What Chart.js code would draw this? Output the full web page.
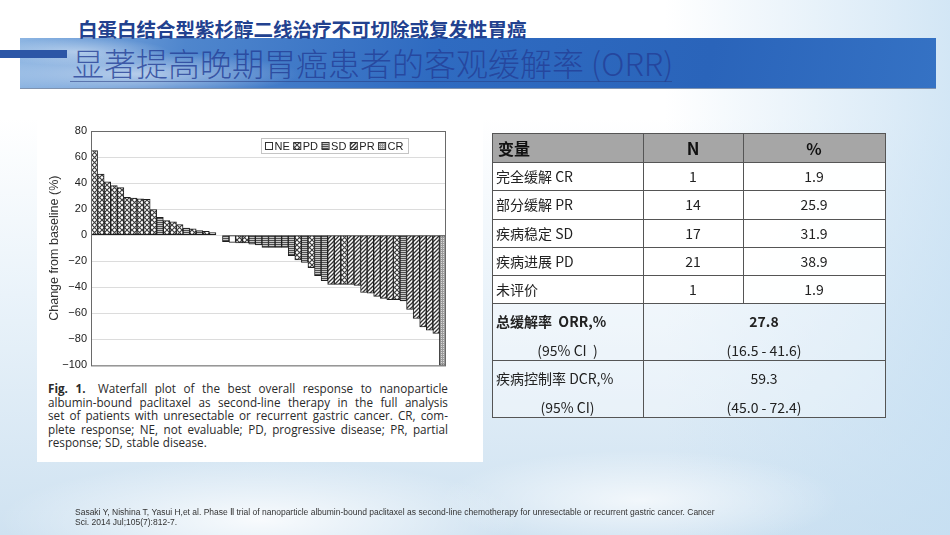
<!DOCTYPE html>
<html>
<head>
<meta charset="utf-8">
<script src="https://cdn.jsdelivr.net/npm/chart.js@4.4.1/dist/chart.umd.min.js"></script>
<style>
  body { margin: 0; }
  #slide {
    position: relative; width: 950px; height: 535px; overflow: hidden;
    font-family: "Noto Sans CJK SC", "Noto Sans", sans-serif;
    background:
      radial-gradient(ellipse 260px 60px at 260px 520px, rgba(255,255,255,0.85), rgba(255,255,255,0)),
      radial-gradient(ellipse 200px 50px at 640px 500px, rgba(255,255,255,0.7), rgba(255,255,255,0)),
      linear-gradient(90deg, rgba(255,255,255,0) 70%, rgba(196,222,242,0.75) 100%),
      linear-gradient(180deg, #ffffff 0%, #ffffff 22%, #eaf3fa 55%, #cfe2f1 100%);
  }
  .abs { position: absolute; }
  #banner {
    left: 20px; top: 38px; width: 916px; height: 50px;
    background:
      radial-gradient(ellipse 160px 22px at 120px 36px, rgba(255,255,255,0.55), rgba(255,255,255,0)),
      radial-gradient(ellipse 90px 14px at 60px 14px, rgba(255,255,255,0.45), rgba(255,255,255,0)),
      linear-gradient(100deg, #8db5e2 0%, #4f86cd 18%, #2f6bc1 45%, #2a64ba 75%, #3572c4 100%);
    border-bottom: 1px solid #7f93b0;
  }
  #leftbar { left: 0; top: 50px; width: 67px; height: 8px; background: #2c56a6; }
  #title1 { left: 78px; top: 18px; font-size: 19.5px; font-weight: bold; color: #22418f; line-height: 22px; white-space: nowrap; }
  #title2 { left: 72px; top: 44px; font-size: 32px; font-weight: 300; color: rgba(36,62,150,0.8); line-height: 36px; white-space: nowrap; }
  #uline { left: 70px; top: 81px; width: 602px; height: 1px; background: rgba(40,60,130,0.55); }
  #panel { left: 37px; top: 110px; width: 446px; height: 352px; background: #fff; }
  #chartBox { left: 37px; top: 110px; width: 446px; height: 266px; }
  #myChart { display: block; }
  #caption { left: 48px; top: 382px; width: 400px; font-family: "Open Sans", sans-serif; font-size: 11.7px; color: #2a2a2a; }
  #caption .ln { display: flex; justify-content: space-between; height: 13.6px; line-height: 13.6px; white-space: nowrap; }
  #caption .last { justify-content: flex-start; gap: 3.5px; }
  .cell { position: absolute; font-size: 14px; color: #222; white-space: pre; line-height: 20px; }
  .hl { position: absolute; height: 1px; background: #555; }
  .vl { position: absolute; width: 1px; background: #555; }
  #foot { left: 75px; top: 507px; font-family: "Liberation Sans", sans-serif; font-size: 8.5px; color: #333; line-height: 10px; white-space: nowrap; }
</style>
</head>
<body>
<div id="slide">
  <div id="banner" class="abs"></div>
  <div id="leftbar" class="abs"></div>
  <div id="title1" class="abs">白蛋白结合型紫杉醇二线治疗不可切除或复发性胃癌</div>
  <div id="title2" class="abs">显著提高晚期胃癌患者的客观缓解率 (ORR)</div>
  <div id="uline" class="abs"></div>

  <div id="panel" class="abs"></div>
  <div id="chartBox" class="abs"><canvas id="myChart" width="446" height="266"></canvas></div>
  <div id="caption" class="abs"></div>

  <div id="table" class="abs" style="left:0;top:0;width:950px;height:535px;"></div>

  <div id="foot" class="abs">Sasaki Y, Nishina T, Yasui H,et al. Phase Ⅱ trial of nanoparticle albumin-bound paclitaxel as second-line chemotherapy for unresectable or recurrent gastric cancer. Cancer<br>Sci. 2014 Jul;105(7):812-7.</div>
</div>

<script>
// Data
const patients = [1, 2, 3, 4, 5, 6, 7, 8, 9, 10, 11, 12, 13, 14, 15, 16, 17, 18,
  19, 20, 21, 22, 23, 24, 25, 26, 27, 28, 29, 30, 31, 32, 33, 34, 35, 36, 37,
  38, 39, 40, 41, 42, 43, 44, 45, 46, 47, 48, 49, 50, 51, 52, 53, 54];
const changes = [65, 47, 41, 38, 36.5, 29, 28.5, 28, 27.5, 19.7, 13.8, 11.2, 10.2, 8.1, 5.5, 4.8, 3.5, 3.0, 1.9,
  0, -5, -5.5, -6, -6, -7, -7.5, -9.4, -9.4, -9.4, -9.4, -15.8, -19, -21, -25, -31, -35,
  -37.8, -37.8, -37.8, -37.8, -38.5, -44, -44.5, -47, -48.5, -49.5, -49.5, -50.5, -57, -64, -70.5, -73, -75.5, -100];
const responses = ["PD", "PD", "PD", "PD", "PD", "PD", "PD", "PD", "PD", "PD", "SD", "PD", "PD", "PD", "SD", "PD", "SD", "PD", "SD",
  "SD", "SD", "NE", "PD", "PD", "SD", "SD", "SD", "SD", "SD", "SD", "SD", "PD", "SD", "PD", "SD", "SD",
  "PR", "PR", "PD", "PR", "PR", "PR", "PR", "PR", "PR", "PR", "PD", "SD", "PR", "PR", "PR", "PR", "PR", "CR"];
const legendTypes = ["NE", "PD", "SD", "PR", "CR"];
const yMin = -100, yMax = 80, yStep = 20;

// Table
const tableHead = ["变量", "N", "%"];
const tableRows = [
  ["完全缓解 CR", "1", "1.9"],
  ["部分缓解 PR", "14", "25.9"],
  ["疾病稳定 SD", "17", "31.9"],
  ["疾病进展 PD", "21", "38.9"],
  ["未评价", "1", "1.9"]
];
const orrRow = ["总缓解率  ORR,%", "(95% CI  )", "27.8", "(16.5 - 41.6)"];
const dcrRow = ["疾病控制率 DCR,%", "(95% CI)", "59.3", "(45.0 - 72.4)"];

const captionLines = [
  "Fig. 1. Waterfall plot of the best overall response to nanoparticle",
  "albumin-bound paclitaxel as second-line therapy in the full analysis",
  "set of patients with unresectable or recurrent gastric cancer. CR, com-",
  "plete response; NE, not evaluable; PD, progressive disease; PR, partial",
  "response; SD, stable disease."
];

// Patterns for the bar fills
function makePattern(kind) {
  if (kind === "NE") return "#ffffff";
  const c = document.createElement("canvas");
  if (kind === "PD") { c.width = 5; c.height = 5; }
  if (kind === "SD") { c.width = 4; c.height = 2; }
  if (kind === "PR") { c.width = 4; c.height = 4; }
  if (kind === "CR") { c.width = 2; c.height = 2; }
  const g = c.getContext("2d");
  g.fillStyle = "#fff";
  g.fillRect(0, 0, c.width, c.height);
  if (kind === "PD") {
    g.strokeStyle = "#3a3a3a"; g.lineWidth = 1.1;
    g.beginPath(); g.moveTo(0, 0); g.lineTo(5, 5); g.moveTo(5, 0); g.lineTo(0, 5); g.stroke();
  } else if (kind === "SD") {
    g.fillStyle = "#505050"; g.fillRect(0, 0, 4, 1);
    g.fillStyle = "#c8c8c8"; g.fillRect(0, 1, 4, 1);
  } else if (kind === "PR") {
    g.strokeStyle = "#333"; g.lineWidth = 1.3;
    g.beginPath();
    g.moveTo(0, 4); g.lineTo(4, 0);
    g.moveTo(-1, 1); g.lineTo(1, -1);
    g.moveTo(3, 5); g.lineTo(5, 3);
    g.stroke();
  } else if (kind === "CR") {
    g.fillStyle = "#9a9a9a"; g.fillRect(0, 0, 2, 2);
    g.fillStyle = "#dadada"; g.fillRect(0, 0, 1, 1);
  }
  return g.createPattern(c, "repeat");
}
const fills = {};
legendTypes.forEach(t => { fills[t] = makePattern(t); });

// Frame + legend inside the plot
const framePlugin = {
  id: "frameLegend",
  afterDraw(chart) {
    const { ctx, chartArea: a } = chart;
    ctx.save();
    ctx.strokeStyle = "#6a6a6a";
    ctx.lineWidth = 1;
    ctx.strokeRect(a.left + 0.5, a.top + 0.5, a.right - a.left - 1, a.bottom - a.top);

    // legend box
    ctx.font = "11px 'Liberation Sans', Arial, sans-serif";
    let w = 5;
    legendTypes.forEach(t => { w += 9 + ctx.measureText(t).width + 4; });
    const bx = a.right - 38 - w, by = a.top + 7, bh = 15;
    ctx.fillStyle = "#fff";
    ctx.fillRect(bx, by, w, bh);
    ctx.strokeStyle = "#c4c4c4";
    ctx.strokeRect(bx + 0.5, by + 0.5, w, bh);
    let x = bx + 4;
    ctx.textBaseline = "middle";
    legendTypes.forEach(t => {
      ctx.fillStyle = fills[t];
      ctx.fillRect(x, by + 4, 7, 7);
      ctx.strokeStyle = "#333";
      ctx.strokeRect(x + 0.5, by + 4.5, 7, 7);
      ctx.fillStyle = "#222";
      ctx.fillText(t, x + 9.5, by + bh / 2 + 1);
      x += 9 + ctx.measureText(t).width + 4;
    });
    ctx.restore();
  }
};

const data = {
  labels: patients,
  datasets: [
    {
      label: "Change from baseline",
      data: changes,
      backgroundColor: responses.map(r => fills[r]),
      borderColor: "#1e1e1e",
      borderWidth: 1,
      borderSkipped: false,
      categoryPercentage: 1.0,
      barPercentage: 1.0
    }
  ]
};

// Configuration
const config = {
  type: "bar",
  data: data,
  plugins: [framePlugin],
  options: {
    responsive: false,
    animation: false,
    layout: { padding: { left: 0, right: 37, top: 21, bottom: 5 } },
    plugins: { legend: { display: false }, tooltip: { enabled: false } },
    scales: {
      x: { display: false },
      y: {
        min: yMin,
        max: yMax,
        afterFit: s => { s.width = 54; },
        ticks: {
          stepSize: yStep,
          padding: 4,
          color: "#222",
          font: { family: "'Liberation Sans', Arial, sans-serif", size: 11 },
          callback: v => (v < 0 ? "\u2212" + Math.abs(v) : String(v))
        },
        grid: { color: "#dcdcdc", drawTicks: false },
        border: { display: false },
        title: {
          display: true,
          text: "Change from baseline (%)",
          color: "#333",
          padding: { top: 10, bottom: 0 },
          font: { family: "'Liberation Sans', Arial, sans-serif", size: 12.5 }
        }
      }
    }
  }
};

// Create chart
const ctx = document.getElementById("myChart").getContext("2d");
const myChart = new Chart(ctx, config);

// Caption
const cap = document.getElementById("caption");
captionLines.forEach((line, i) => {
  const d = document.createElement("div");
  d.className = "ln" + (i === captionLines.length - 1 ? " last" : "");
  line.split(" ").forEach((word, j) => {
    const s = document.createElement("span");
    s.textContent = word;
    if (i === 0 && j < 2) s.style.fontWeight = "bold";
    if (i === 0 && j === 1) s.style.marginRight = "5px";
    d.appendChild(s);
  });
  cap.appendChild(d);
});

// Table drawn with divs
const tb = document.getElementById("table");
const L = 492, R = 885, T = 133, C1 = 643, C2 = 743;
const rowY = [133, 162, 190, 218.5, 247, 275, 303, 360, 417];
function add(cls, style, text) {
  const d = document.createElement("div");
  d.className = cls;
  Object.assign(d.style, style);
  if (text !== undefined) d.textContent = text;
  tb.appendChild(d);
  return d;
}
add("abs", { left: L + "px", top: "133px", width: (R - L) + "px", height: "29px", background: "#a6a6a6" });
add("abs", { left: L + "px", top: "162px", width: (R - L) + "px", height: "141px", background: "rgba(255,255,255,0.97)" });
add("abs", { left: L + "px", top: "303px", width: (R - L) + "px", height: "114px", background: "rgba(255,255,255,0.35)" });
rowY.forEach(y => add("hl", { left: L + "px", top: y + "px", width: (R - L + 1) + "px" }));
add("vl", { left: L + "px", top: T + "px", height: (417 - T) + "px" });
add("vl", { left: R + "px", top: T + "px", height: (417 - T) + "px" });
add("vl", { left: C1 + "px", top: T + "px", height: (417 - T) + "px" });
add("vl", { left: C2 + "px", top: T + "px", height: (303 - T) + "px" });

function cellText(text, x, yc, align, extra) {
  const st = Object.assign({ top: (yc - 10) + "px" }, extra || {});
  if (align === "left") st.left = x + "px";
  else { st.left = (x - 100) + "px"; st.width = "200px"; st.textAlign = "center"; }
  return add("cell", st, text);
}
cellText(tableHead[0], 498, 147.5, "left", { fontWeight: "bold", fontSize: "16px", color: "#111" });
cellText(tableHead[1], (C1 + C2) / 2, 147.5, "center", { fontWeight: "bold", fontSize: "17px", color: "#111" });
cellText(tableHead[2], (C2 + R) / 2, 147.5, "center", { fontWeight: "bold", fontSize: "16px", color: "#111" });
tableRows.forEach((r, i) => {
  const yc = (rowY[i + 1] + rowY[i + 2]) / 2;
  cellText(r[0], 496, yc, "left");
  cellText(r[1], (C1 + C2) / 2, yc, "center");
  cellText(r[2], (C2 + R) / 2, yc, "center");
});
cellText(orrRow[0], 496, 321, "left", { fontWeight: "bold" });
cellText(orrRow[1], (L + C1) / 2, 350, "center");
cellText(orrRow[2], (C1 + R) / 2, 321, "center", { fontWeight: "bold" });
cellText(orrRow[3], (C1 + R) / 2, 350, "center");
cellText(dcrRow[0], 496, 378, "left");
cellText(dcrRow[1], (L + C1) / 2, 407, "center");
cellText(dcrRow[2], (C1 + R) / 2, 378, "center");
cellText(dcrRow[3], (C1 + R) / 2, 407, "center");
</script>
</body>
</html>
